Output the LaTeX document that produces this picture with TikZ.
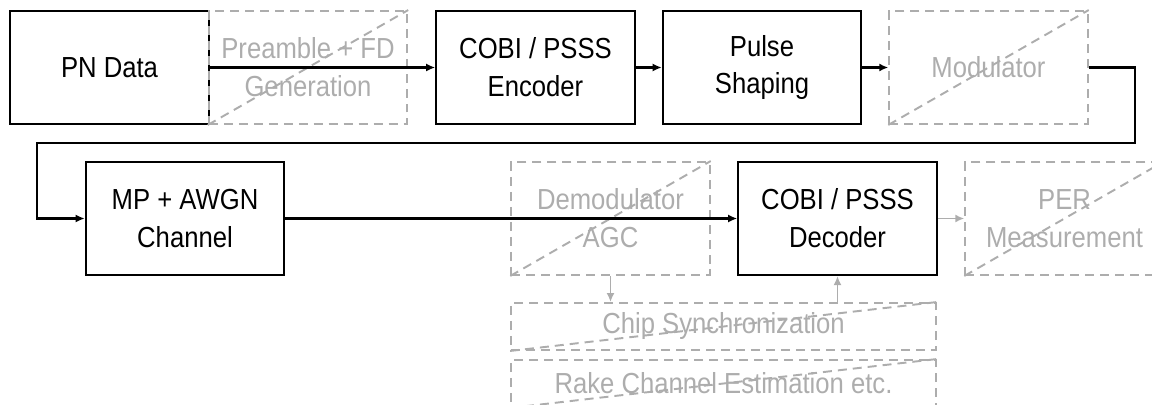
\documentclass[tikz,border=0pt]{standalone}
\usepackage{fontspec}
\setmainfont{Liberation Sans}[FakeStretch=0.885]
\usetikzlibrary{arrows.meta}
\definecolor{dimgray}{HTML}{ADADAD}
\tikzset{
  block/.style={draw,line width=1.2pt,align=center,inner sep=0pt,
    minimum width=3.97cm,minimum height=2.26cm,font=\fontsize{16.5}{21.5}\selectfont},
  dimblock/.style={block,draw=dimgray,text=dimgray,line width=1.1pt,
    dash pattern=on 0.18cm off 0.12cm},
  wideblock/.style={dimblock,minimum width=8.5cm,minimum height=0.94cm},
  flow/.style={-{Latex[length=1.8mm,width=1.6mm]},line width=1.2pt},
  dimflow/.style={flow,draw=dimgray,line width=1.1pt},
  crossout/.style={draw=dimgray,line width=1.1pt,dash pattern=on 0.18cm off 0.12cm}
}

\begin{document}
\begin{tikzpicture}[x=0.02cm,y=-0.02cm]
\clip (0,0) rectangle (1152,405);
% top row
\node[block] (pn) at (109.5,67.5) {PN Data};
\node[dimblock] (pre) at (308,67.5) {Preamble + FD\\Generation};
\node[block] (enc) at (535.5,67.5) {COBI / PSSS\\Encoder};
\node[block] (pulse) at (762,67.5) {Pulse\\Shaping};
\node[dimblock] (mod) at (988.5,67.5) {Modulator};
% bottom row
\node[block] (mp) at (185,218.5) {MP + AWGN\\Channel};
\node[dimblock] (demod) at (610.5,218.5) {Demodulator\\AGC};
\node[block] (dec) at (837.5,218.5) {COBI / PSSS\\Decoder};
\node[dimblock] (per) at (1064.5,218.5) {PER\\Measurement};
\node[wideblock] (chip) at (723.5,326.5) {Chip Synchronization};
\node[wideblock] (rake) at (723.5,383.5) {Rake Channel Estimation etc.};
\foreach \n in {pre,mod,demod,per,chip,rake}
  \draw[crossout] (\n.south west) -- (\n.north east);
\coordinate (turn) at (1135,143);
\coordinate (back) at (37,143);
\draw[flow] (pn) -- (enc);
\draw[flow] (enc) -- (pulse);
\draw[flow] (pulse) -- (mod);
\draw[flow] (mod.east) -| (turn) -- (back) |- (mp.west);
\draw[flow] (mp) -- (dec);
\draw[dimflow] (dec) -- (per);
\draw[dimflow] (demod.south) -- (chip.north -| demod.south);
\draw[dimflow] (chip.north -| dec.south) -- (dec.south);
\end{tikzpicture}
\end{document}
